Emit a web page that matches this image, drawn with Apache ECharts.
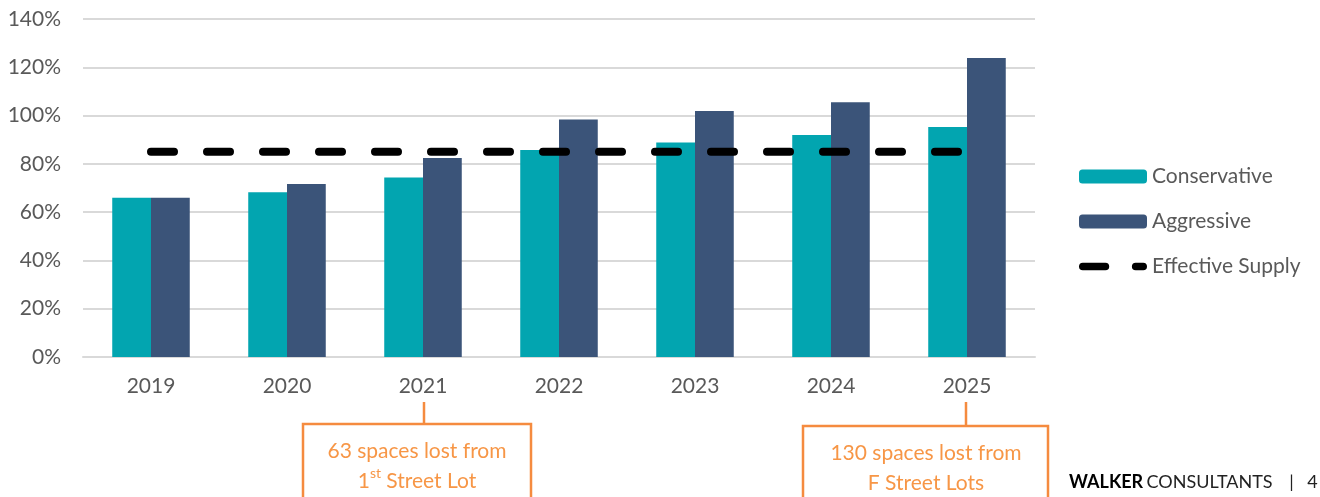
<!DOCTYPE html>
<html>
<head>
<meta charset="utf-8">
<script src="https://cdn.jsdelivr.net/npm/echarts@6/dist/echarts.min.js"></script>
<style>
  html, body { margin: 0; padding: 0; background: #fff; }
  #chart { width: 1320px; height: 497px; }
</style>
</head>
<body>
<div id="chart"></div>
<script>
// data (percent)
var years = ['2019', '2020', '2021', '2022', '2023', '2024', '2025'];
var conservative = [66, 68.2, 74.4, 85.7, 88.8, 92.0, 95.3];
var aggressive = [66, 71.7, 82.4, 98.4, 101.9, 105.5, 123.8];
var effectiveSupply = [85, 85, 85, 85, 85, 85, 85];
var yTicks = { min: 0, max: 140, step: 20 };

var font = 'Lato, "Open Sans", sans-serif';
var grey = '#595959';
var orange = '#F58B3F';
var orangeText = '#F79646';

// legend icon for the dashed line: two rounded dashes, with tiny corner dots so the box is 68x14
var dashIcon = 'path://M0,0h0.01v0.01h-0.01Z M68,14h-0.01v-0.01h0.01Z ' +
  'M0,3H24A4,4 0 0 1 24,11H0A4,4 0 0 1 0,3Z M56,3H64A4,4 0 0 1 64,11H56A4,4 0 0 1 56,3Z';

var chart = echarts.init(document.getElementById('chart'));
chart.setOption({
  animation: false,
  textStyle: { fontFamily: font },
  grid: { left: 83, right: 285, top: 19, bottom: 140 },
  legend: {
    orient: 'vertical',
    left: 1079,
    top: 166,
    padding: 0,
    itemWidth: 68,
    itemHeight: 14,
    itemGap: 24,
    textStyle: { fontSize: 21, color: grey, fontFamily: font },
    data: [
      { name: 'Conservative' },
      { name: 'Aggressive' },
      { name: 'Effective Supply', icon: dashIcon, itemStyle: { color: '#000' } }
    ]
  },
  xAxis: {
    type: 'category',
    data: years,
    axisLine: { lineStyle: { color: '#d9d9d9', width: 2 } },
    axisTick: { show: false },
    axisLabel: { color: grey, fontSize: 21, margin: 19, fontFamily: font }
  },
  yAxis: {
    type: 'value',
    min: yTicks.min,
    max: yTicks.max,
    interval: yTicks.step,
    axisLine: { show: false },
    axisTick: { show: false },
    axisLabel: { color: grey, fontSize: 21, margin: 22, formatter: '{value}%', fontFamily: font },
    splitLine: { lineStyle: { color: '#d9d9d9', width: 2 } }
  },
  series: [
    {
      name: 'Conservative',
      type: 'bar',
      data: conservative,
      barGap: '0%',
      barCategoryGap: '43%',
      itemStyle: { color: '#02A5B0' }
    },
    {
      name: 'Aggressive',
      type: 'bar',
      data: aggressive,
      itemStyle: { color: '#3B5479' }
    },
    {
      name: 'Effective Supply',
      type: 'line',
      data: effectiveSupply,
      symbol: 'none',
      z: 5,
      itemStyle: { color: '#000' },
      lineStyle: { color: '#000', width: 8, type: [23, 33], cap: 'round' }
    }
  ],
  graphic: [
    // annotation 2021
    { type: 'line', shape: { x1: 424, y1: 402, x2: 424, y2: 424 }, style: { stroke: orange, lineWidth: 2.5 } },
    { type: 'rect', shape: { x: 303, y: 424, width: 228, height: 90 }, style: { fill: '#fff', stroke: orange, lineWidth: 2.5 } },
    {
      type: 'text', x: 417, y: 436, z: 10,
      style: {
        text: '{n|63 spaces lost from}\n{n|1}{s|st}{n| Street Lot}',
        align: 'center',
        rich: {
          n: { fontSize: 21, fontFamily: font, fill: orangeText, lineHeight: 30 },
          s: { fontSize: 14, fontFamily: font, fill: orangeText, lineHeight: 30, verticalAlign: 'top', padding: [0, 0, 11, 0] }
        }
      }
    },
    // annotation 2025
    { type: 'line', shape: { x1: 966, y1: 402, x2: 966, y2: 426 }, style: { stroke: orange, lineWidth: 2.5 } },
    { type: 'rect', shape: { x: 803, y: 426, width: 245, height: 90 }, style: { fill: '#fff', stroke: orange, lineWidth: 2.5 } },
    {
      type: 'text', x: 926, y: 438, z: 10,
      style: {
        text: '130 spaces lost from\nF Street Lots',
        align: 'center',
        fill: orangeText,
        font: '21px ' + font,
        lineHeight: 30
      }
    },
    // footer
    {
      type: 'text', x: 1069, y: 473,
      style: {
        text: '{b|WALKER} {r|CONSULTANTS}     {r||}    {r|4}',
        rich: {
          b: { fontSize: 18, fontWeight: 'bold', fill: '#000', fontFamily: font },
          r: { fontSize: 18, fill: '#222', fontFamily: font }
        }
      }
    }
  ]
});
</script>
</body>
</html>
